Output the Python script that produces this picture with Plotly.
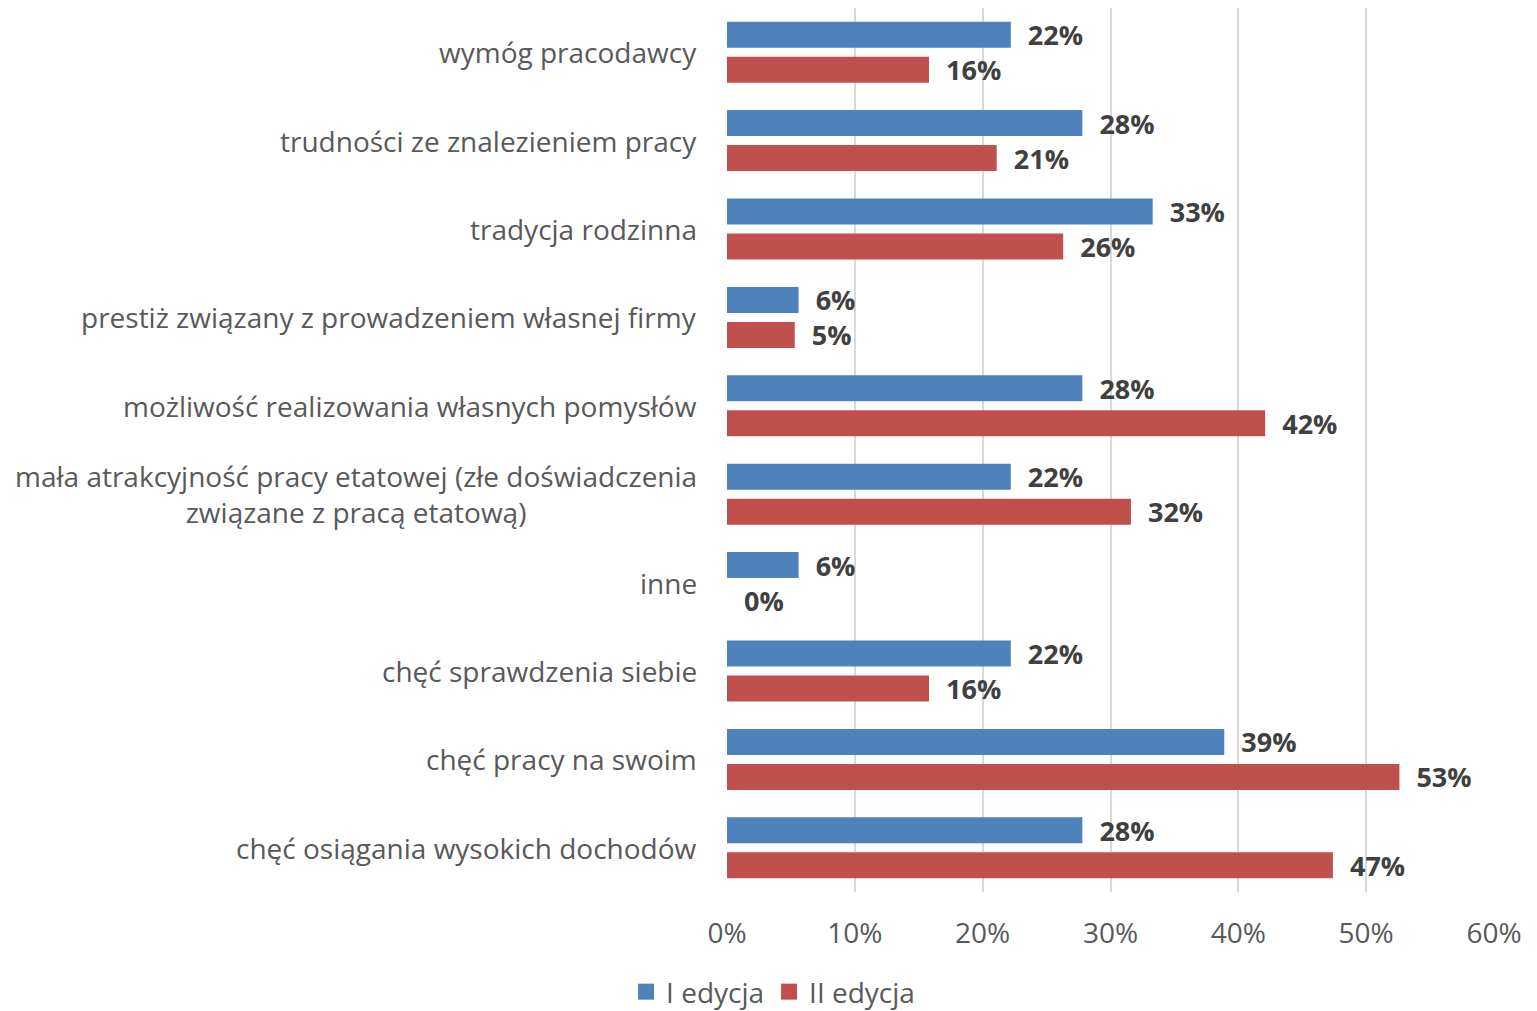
import plotly.graph_objects as go

categories = [
    "wymóg pracodawcy",
    "trudności ze znalezieniem pracy",
    "tradycja rodzinna",
    "prestiż związany z prowadzeniem własnej firmy",
    "możliwość realizowania własnych pomysłów",
    "mała atrakcyjność pracy etatowej (złe doświadczenia<br>związane z pracą etatową)",
    "inne",
    "chęć sprawdzenia siebie",
    "chęć pracy na swoim",
    "chęć osiągania wysokich dochodów",
]
edycja_1 = [22.2, 27.8, 33.3, 5.6, 27.8, 22.2, 5.6, 22.2, 38.9, 27.8]
edycja_2 = [15.8, 21.1, 26.3, 5.3, 42.1, 31.6, 0.0, 15.8, 52.6, 47.4]
series_names = ["I edycja", "II edycja"]
series_colors = ["#4F81BD", "#C0504D"]
x_ticks = [0, 10, 20, 30, 40, 50, 60]
x_tick_labels = ["0%", "10%", "20%", "30%", "40%", "50%", "60%"]

FONT = "Open Sans"
FS = 28

fig = go.Figure()
for name, vals, color in zip(series_names, [edycja_1, edycja_2], series_colors):
    fig.add_trace(go.Bar(
        y=categories, x=vals, name=name, orientation="h",
        marker=dict(color=color, line=dict(width=0)),
        text=["\u00a0\u00a0" + f"{v:.0f}%" for v in vals],
        textposition="outside", cliponaxis=False, constraintext="none",
        textfont=dict(family=FONT, size=27, color="#404040", weight="bold"),
        showlegend=False,
    ))
    # legend proxy with large square marker
    fig.add_trace(go.Scatter(
        x=[None], y=[None], mode="markers", name=name,
        marker=dict(symbol="square", size=17, color=color),
        showlegend=True,
    ))

for c in categories:
    fig.add_annotation(
        x=0, xref="paper", y=c, yref="y", xanchor="right", yanchor="middle",
        xshift=-28, text=c, showarrow=False, align="center",
        font=dict(family=FONT, size=FS, color="#595959"),
    )

fig.update_layout(
    width=1521, height=1003,
    margin=dict(l=719, r=35, t=0, b=119),
    paper_bgcolor="white", plot_bgcolor="white",
    barmode="group", bargap=0.208, bargroupgap=0.257,
    showlegend=True,
    legend=dict(orientation="h", xref="container", x=0.503, xanchor="center",
                yref="container", y=0.019, yanchor="middle",
                font=dict(family=FONT, size=FS, color="#595959"),
                traceorder="normal", itemwidth=30, tracegroupgap=0),
    xaxis=dict(range=[0, 60], tickvals=x_ticks, ticktext=x_tick_labels,
               showgrid=True, gridcolor="#D9D9D9", gridwidth=2,
               zeroline=False, showline=False,
               ticks="outside", ticklen=16, tickcolor="white",
               tickfont=dict(family=FONT, size=FS, color="#595959")),
    yaxis=dict(categoryorder="array", categoryarray=categories,
               autorange="reversed", showticklabels=False,
               showgrid=False, zeroline=False, showline=False),
)
fig.write_html("out.html")
